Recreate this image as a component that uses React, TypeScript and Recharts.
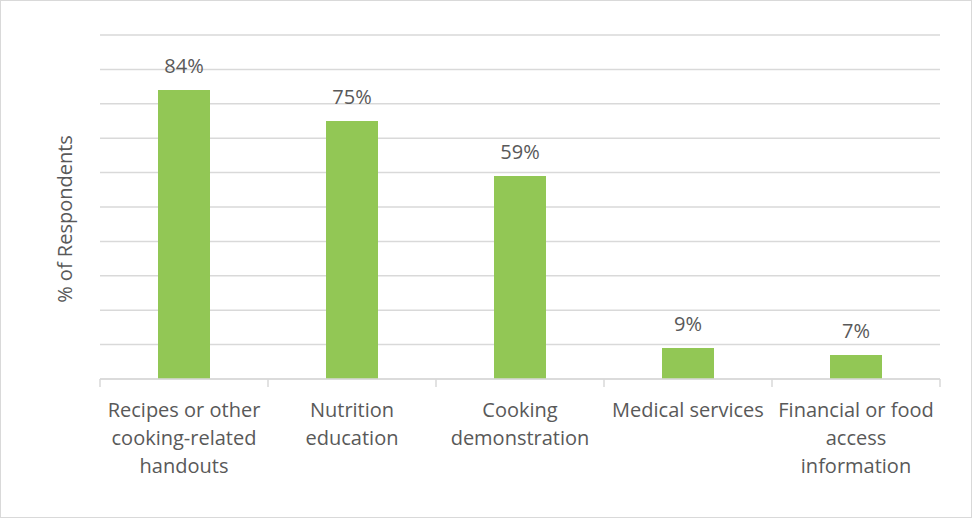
import React from "react";
import { BarChart, Bar, XAxis, YAxis, CartesianGrid, LabelList } from "recharts";

const categories = [
  "Recipes or other cooking-related handouts",
  "Nutrition education",
  "Cooking demonstration",
  "Medical services",
  "Financial or food access information",
];
const values = [84, 75, 59, 9, 7];
const tickLines = [
  ["Recipes or other", "cooking-related", "handouts"],
  ["Nutrition", "education"],
  ["Cooking", "demonstration"],
  ["Medical services"],
  ["Financial or food", "access", "information"],
];
const yTicks = [0, 10, 20, 30, 40, 50, 60, 70, 80, 90, 100];

const data = categories.map((c, i) => ({ name: c, value: values[i] }));

const FONT = "'Open Sans', sans-serif";
const TEXT = "#595959";
const GRID = "#d9d9d9";
const FS = 20;

const CustomTick = (props: any) => {
  const { x, y, payload, index } = props;
  const band = 168;
  const i0 = payload.index ?? index;
  const lines = tickLines[i0] || [payload.value];
  const n = categories.length;
  return (
    <g>
      <line x1={x - band / 2} x2={x - band / 2} y1={y - 8} y2={y} stroke={GRID} strokeWidth={1.5} />
      {i0 === n - 1 && (
        <line x1={x + band / 2} x2={x + band / 2} y1={y - 8} y2={y} stroke={GRID} strokeWidth={1.5} />
      )}
      {lines.map((l: string, i: number) => (
        <text key={i} x={x} y={y + 30 + i * 28} textAnchor="middle" fill={TEXT} fontSize={FS} fontFamily={FONT}>
          {l}
        </text>
      ))}
    </g>
  );
};

export default function App() {
  return (
    <div
      style={{
        position: "absolute",
        left: 0,
        top: 0,
        width: 972,
        height: 518,
        border: "1px solid #d9d9d9",
        boxSizing: "border-box",
        background: "#fff",
      }}
    >
      <BarChart
        width={970}
        height={516}
        data={data}
        margin={{ top: 34, right: 31, bottom: 0, left: 39 }}
      >
        <CartesianGrid vertical={false} stroke={GRID} strokeWidth={1.5} />
        <XAxis
          dataKey="name"
          axisLine={{ stroke: GRID, strokeWidth: 1.5 }}
          tickLine={false}
          interval={0}
          tick={<CustomTick />}
          height={138}
        />
        <YAxis
          domain={[0, 100]}
          ticks={yTicks}
          tick={() => <g />}
          axisLine={false}
          tickLine={false}
          width={60}
          label={{
            value: "% of Respondents",
            angle: -90,
            position: "center",
            dx: -5,
            dy: 12,
            fill: TEXT,
            fontSize: FS,
            fontFamily: FONT,
          }}
        />
        <Bar dataKey="value" fill="#92c755" barSize={52} isAnimationActive={false}>
          <LabelList
            dataKey="value"
            position="top"
            offset={17}
            formatter={(v: any) => `${v}%`}
            fill={TEXT}
            fontSize={FS}
            fontFamily={FONT}
          />
        </Bar>
      </BarChart>
    </div>
  );
}
